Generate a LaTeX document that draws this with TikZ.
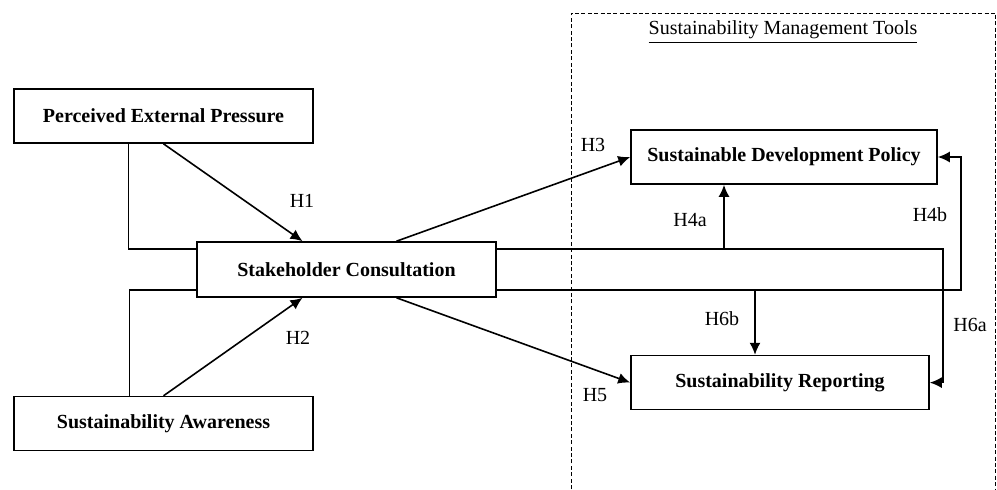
\documentclass[tikz,border=0pt]{standalone}
\usepackage{fontspec}
\setmainfont{Liberation Serif}
\usetikzlibrary{arrows.meta, positioning}

\tikzset{
  construct/.style={draw, line width=0.8pt, minimum width=149.5pt, minimum height=27pt, inner sep=0pt, font=\bfseries},
  link/.style={line width=0.8pt},
  arr/.style={link, -{Latex[length=6pt, width=5.5pt]}},
  frame/.style={line width=0.5pt, dash pattern=on 2pt off 1.2pt},
}

\begin{document}
\begin{tikzpicture}[x=0.5pt, y=-0.5pt]
		\useasboundingbox (0,0) rectangle (997,489);
		
		% tools frame
		\draw[frame] (571,489) -- (571,13) -- (995.5,13) -- (995.5,489);
		\node (title) at (783,32) {\underline{Sustainability Management Tools}};
		
		\node[construct] (pep) at (163.5,116) {Perceived External Pressure};
		\node[construct, below=126pt of pep] (sa) {Sustainability Awareness};
		\node[construct, minimum height=27.5pt] (sc) at (346.5,269.5) {Stakeholder Consultation};
		\node[construct, minimum width=153pt] (sdp) at (784,157) {Sustainable Development Policy};
		\node[construct, minimum width=149pt, below=85pt of sdp.south west, anchor=north west] (sr) {Sustainability Reporting};
		
		\coordinate (up) at ([yshift=10.25pt]sc.east);
		\coordinate (lo) at ([yshift=-10.25pt]sc.east);
		\coordinate (h4a) at ([xshift=-30pt]sdp.south);
		\coordinate (h6b) at ([xshift=-12.5pt]sr.north);
		
		\draw[link] ([xshift=-17.5pt]pep.south) |- ([yshift=10.25pt]sc.west);
		\draw[link] ([xshift=-17pt]sa.north) |- ([yshift=-10.25pt]sc.west);
		\draw[arr] (pep.south) -- ([xshift=-22pt]sc.north);
		\draw[arr] (sa.north) -- ([xshift=-22pt]sc.south);
		\draw[arr] ([xshift=25pt]sc.north) -- (sdp.west);
		\draw[arr] ([xshift=25pt]sc.south) -- (sr.west);
		\draw[arr] (up) -| ([xshift=6.5pt]sr.east) -- (sr.east);
		\draw[arr] (lo) -| ([xshift=11.5pt]sdp.east) -- (sdp.east);
		\draw[arr] (h4a |- up) -- (h4a);
		\draw[arr] (h6b |- lo) -- (h6b);
		
		\node (l1) at (302,201) {H1};
		\node (l2) at (298,338) {H2};
		\node (l3) at (593,145) {H3};
		\node (l4a) at (690,220) {H4a};
		\node (l4b) at (930,215) {H4b};
		\node (l5) at (595,395) {H5};
		\node (l6b) at (722,319) {H6b};
		\node (l6a) at (970,325) {H6a};
\end{tikzpicture}
\end{document}
